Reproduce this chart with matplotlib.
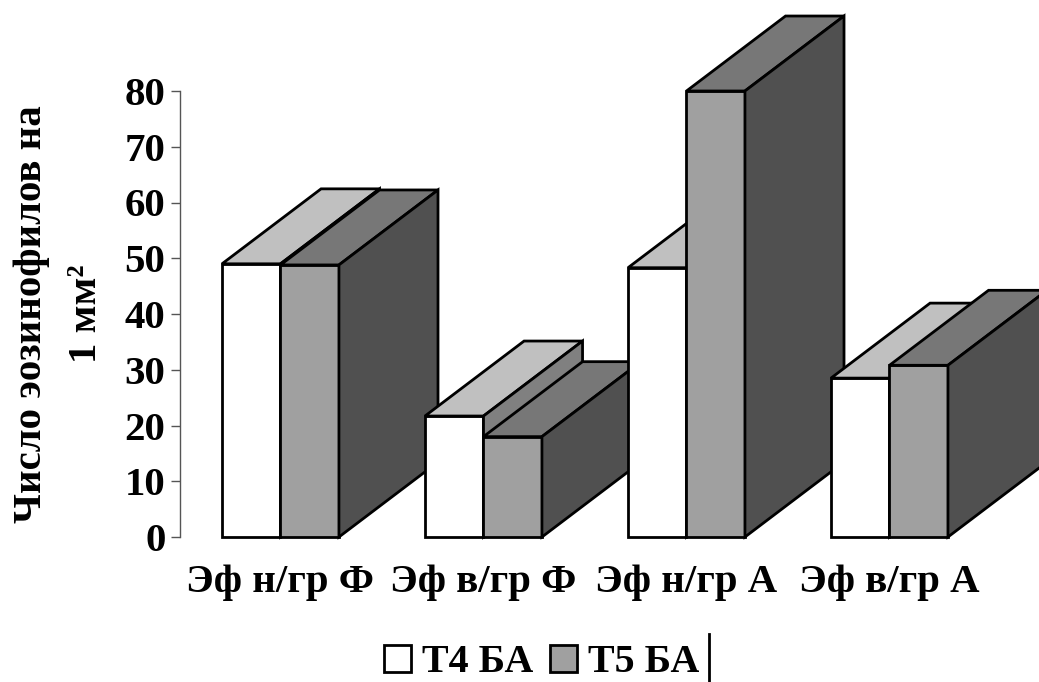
import matplotlib.pyplot as plt
from matplotlib.lines import Line2D
from matplotlib.patches import Patch

plt.rcParams['font.family'] = ['Liberation Serif', 'DejaVu Serif']
plt.rcParams['font.weight'] = 'bold'

categories = ['Эф н/гр Ф', 'Эф в/гр Ф', 'Эф н/гр А', 'Эф в/гр А']
t4_values = [49, 21.7, 48.3, 28.5]
t5_values = [48.8, 18, 80, 30.8]
series_names = ['Т4 БА', 'Т5 БА']
y_ticks = list(range(0, 90, 10))

# shades: front, top, side
t4_colors = ('#FFFFFF', '#C0C0C0', '#808080')
t5_colors = ('#A0A0A0', '#777777', '#505050')

W, H = 1039, 682
bar_w = 0.288
depth_x = 0.488   # oblique offset of the fake 3D, in x units
depth_y = 13.45   # same, in y units
edge_lw = 2.0
center = 0.495
font_size = 29.4


def box(ax, x0, value, colors, z):
  x1 = x0 + bar_w
  front, top, side = colors
  style = dict(edgecolor='black', linewidth=edge_lw, joinstyle='miter', clip_on=False)
  ax.bar(x0, value, bar_w, align='edge', color=front, zorder=z, **style)
  ax.fill([x0, x1, x1 + depth_x, x0 + depth_x],
          [value, value, value + depth_y, value + depth_y],
          facecolor=top, zorder=z, **style)
  ax.fill([x1, x1 + depth_x, x1 + depth_x, x1],
          [0, depth_y, value + depth_y, value],
          facecolor=side, zorder=z, **style)


fig = plt.figure(figsize=(W / 100, H / 100), dpi=100)
# y=0 at pixel row 537, y=80 at 91, groups 203 px wide from x=180
ax = fig.add_axes([180 / W, 1 - 537 / H, 812 / W, 446 / H])
ax.set_xlim(0, 4)
ax.set_ylim(0, 80)

for i in range(len(categories)):
  box(ax, i + center - bar_w, t4_values[i], t4_colors, 10 + 2 * i)
  box(ax, i + center, t5_values[i], t5_colors, 11 + 2 * i)

for s in ['top', 'right', 'bottom']:
  ax.spines[s].set_visible(False)
ax.spines['left'].set_color('#555555')
ax.spines['left'].set_linewidth(1)

ax.set_yticks(y_ticks)
ax.tick_params(axis='y', length=6.5, width=1, color='#555555', labelsize=font_size, pad=4)
ax.set_xticks([i + center for i in range(len(categories))])
ax.set_xticklabels(categories, fontsize=font_size)
ax.tick_params(axis='x', length=0, pad=19.5)

fig.text(59 / W, 1 - 314 / H, 'Число эозинофилов на\n1 мм²', rotation=90, fontsize=font_size,
         fontweight='bold', ha='center', va='center', ma='center', linespacing=1.62)

handles = [Patch(facecolor=t4_colors[0], edgecolor='black', linewidth=edge_lw),
           Patch(facecolor=t5_colors[0], edgecolor='black', linewidth=edge_lw)]
fig.legend(handles, series_names, loc='center', bbox_to_anchor=(541.5 / W, 1 - 663 / H),
           ncol=2, frameon=False, fontsize=28.8, handlelength=0.675, handleheight=0.675,
           handletextpad=0.275, columnspacing=0.4, borderpad=0, borderaxespad=0)

# leftover of the legend frame in the original
fig.add_artist(Line2D([709 / W, 709 / W], [1 - 634 / H, 1 - 682 / H], color='black', linewidth=2))

fig.savefig('out.png', dpi=100)
